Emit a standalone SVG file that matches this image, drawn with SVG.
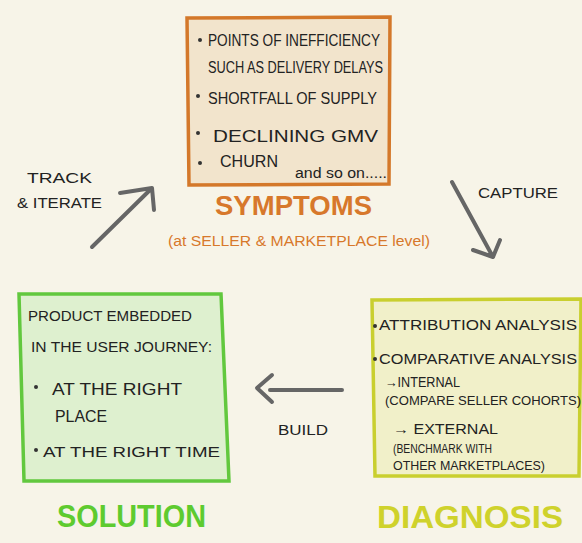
<svg xmlns="http://www.w3.org/2000/svg" width="582" height="543" viewBox="0 0 582 543">
<style>
.t{font-family:"Liberation Sans",Arial,sans-serif;fill:#222;font-size:14px;}
.m{font-size:16px;}
.s{font-size:12px;}
.h{font-family:"Liberation Sans",Arial,sans-serif;font-weight:bold;}
.arr{stroke:#666;stroke-width:4;fill:none;stroke-linecap:round;stroke-linejoin:round;}
.dot{fill:#333;}
</style>
<rect x="0" y="0" width="582" height="543" fill="#f7f4e8"/>
<g id="connectors">
<path class="arr" d="M92,247 L152,188 M120,193 L152,188 L154,210"/>
<path class="arr" d="M452,182 L493,257 M473,250 L493,257 L500,240"/>
<path class="arr" d="M342,390 L270,390 M272,375 L257,388 L272,402"/>
<text class="t" x="27" y="183" textLength="65" lengthAdjust="spacingAndGlyphs">TRACK</text>
<text class="t" x="17" y="208" textLength="85" lengthAdjust="spacingAndGlyphs">&amp; ITERATE</text>
<text class="t" x="478" y="198" textLength="80" lengthAdjust="spacingAndGlyphs">CAPTURE</text>
<text class="t" x="278" y="435" textLength="50" lengthAdjust="spacingAndGlyphs">BUILD</text>
</g>
<g id="symptoms">
<polygon points="187,18 390,17 389,184 189,185" fill="#f2e4cc" stroke="#d4782a" stroke-width="3.5"/>
<circle class="dot" cx="200" cy="40" r="2"/>
<text class="t m" x="208" y="46" textLength="172" lengthAdjust="spacingAndGlyphs">POINTS OF INEFFICIENCY</text>
<text class="t m" x="208" y="73" textLength="175" lengthAdjust="spacingAndGlyphs">SUCH AS DELIVERY DELAYS</text>
<circle class="dot" cx="198" cy="96" r="2"/>
<text class="t m" x="208" y="104" textLength="169" lengthAdjust="spacingAndGlyphs">SHORTFALL OF SUPPLY</text>
<circle class="dot" cx="198" cy="133" r="2"/>
<text class="t m" x="213" y="142" textLength="165" lengthAdjust="spacingAndGlyphs">DECLINING  GMV</text>
<circle class="dot" cx="200" cy="163" r="2"/>
<text class="t m" x="220" y="167" textLength="58" lengthAdjust="spacingAndGlyphs">CHURN</text>
<text class="t" x="295" y="178" textLength="92" lengthAdjust="spacingAndGlyphs" font-size="11">and so on.....</text>
<text class="h" x="215" y="215" font-size="28" fill="#d7782b" textLength="157" lengthAdjust="spacingAndGlyphs">SYMPTOMS</text>
<text x="168" y="246" font-family="Liberation Sans,Arial,sans-serif" font-size="14" fill="#d7782b" textLength="262" lengthAdjust="spacingAndGlyphs">(at SELLER &amp; MARKETPLACE level)</text>
</g>
<g id="diagnosis">
<polygon points="372,300 581,299 579,476 375,476" fill="#f1f0c9" stroke="#c9cf2f" stroke-width="3.5"/>
<circle class="dot" cx="375" cy="326" r="2"/>
<text class="t" x="379" y="330" textLength="198" lengthAdjust="spacingAndGlyphs">ATTRIBUTION ANALYSIS</text>
<circle class="dot" cx="375" cy="359" r="2"/>
<text class="t" x="379" y="364" textLength="198" lengthAdjust="spacingAndGlyphs">COMPARATIVE ANALYSIS</text>
<text class="t" x="385" y="387" textLength="75" lengthAdjust="spacingAndGlyphs">→INTERNAL</text>
<text class="t s" x="385" y="405" textLength="196" lengthAdjust="spacingAndGlyphs">(COMPARE SELLER COHORTS)</text>
<text class="t" x="393" y="434" textLength="105" lengthAdjust="spacingAndGlyphs">→ EXTERNAL</text>
<text class="t s" x="393" y="453" textLength="99" lengthAdjust="spacingAndGlyphs">(BENCHMARK WITH</text>
<text class="t s" x="393" y="470" textLength="152" lengthAdjust="spacingAndGlyphs">OTHER MARKETPLACES)</text>
<text class="h" x="377" y="528" font-size="32" fill="#cfd22c" textLength="186" lengthAdjust="spacingAndGlyphs">DIAGNOSIS</text>
</g>
<g id="solution">
<polygon points="19,294 221,294 229,481 24,481" fill="#def0cf" stroke="#62c83e" stroke-width="3.5"/>
<text class="t" x="28" y="321" textLength="164" lengthAdjust="spacingAndGlyphs">PRODUCT EMBEDDED</text>
<text class="t" x="31" y="352" textLength="181" lengthAdjust="spacingAndGlyphs">IN THE USER JOURNEY:</text>
<circle class="dot" cx="36" cy="387" r="2"/>
<text class="t m" x="52" y="395" textLength="130" lengthAdjust="spacingAndGlyphs">AT THE RIGHT</text>
<text class="t m" x="55" y="422" textLength="52" lengthAdjust="spacingAndGlyphs">PLACE</text>
<circle class="dot" cx="36" cy="450" r="2"/>
<text class="t" x="43" y="457" textLength="177" lengthAdjust="spacingAndGlyphs">AT THE RIGHT TIME</text>
<text class="h" x="57" y="527" font-size="32" fill="#5ecb2f" textLength="149" lengthAdjust="spacingAndGlyphs">SOLUTION</text>
</g>
</svg>
